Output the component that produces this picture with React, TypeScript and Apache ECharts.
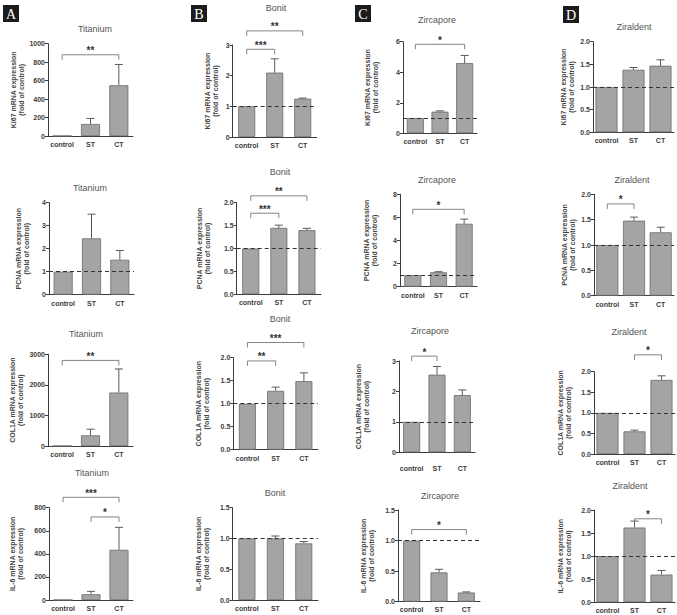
import React, { useEffect, useRef } from "react";
import * as echarts from "echarts";

// ---------- data ----------
const categories = ["control", "ST", "CT"];
const materials = ["Titanium", "Bonit", "Zircapore", "Ziraldent"];
const genes = ["Ki67", "PCNA", "COL1A", "IL-6"];
const panelLetters = ["A", "B", "C", "D"];

// Titanium
const ki67Titanium = [1, 130, 550];
const ki67TitaniumSd = [0, 60, 225];
const pcnaTitanium = [1, 2.45, 1.52];
const pcnaTitaniumSd = [0, 1.05, 0.4];
const col1aTitanium = [1, 350, 1750];
const col1aTitaniumSd = [0, 200, 770];
const il6Titanium = [1, 50, 435];
const il6TitaniumSd = [0, 25, 195];
// Bonit
const ki67Bonit = [1, 2.1, 1.25];
const ki67BonitSd = [0, 0.45, 0.02];
const pcnaBonit = [1, 1.45, 1.4];
const pcnaBonitSd = [0, 0.06, 0.04];
const col1aBonit = [1, 1.28, 1.49];
const col1aBonitSd = [0, 0.08, 0.18];
const il6Bonit = [1, 1.0, 0.92];
const il6BonitSd = [0, 0.04, 0.03];
// Zircapore
const ki67Zircapore = [1, 1.42, 4.6];
const ki67ZircaporeSd = [0, 0.05, 0.5];
const pcnaZircapore = [1, 1.25, 5.45];
const pcnaZircaporeSd = [0, 0.05, 0.4];
const col1aZircapore = [1, 2.55, 1.88];
const col1aZircaporeSd = [0, 0.27, 0.17];
const il6Zircapore = [1, 0.48, 0.15];
const il6ZircaporeSd = [0, 0.05, 0.01];
// Ziraldent
const ki67Ziraldent = [1, 1.38, 1.47];
const ki67ZiraldentSd = [0, 0.05, 0.13];
const pcnaZiraldent = [1, 1.48, 1.25];
const pcnaZiraldentSd = [0, 0.07, 0.1];
const col1aZiraldent = [1, 0.55, 1.8];
const col1aZiraldentSd = [0, 0.03, 0.1];
const il6Ziraldent = [1, 1.62, 0.6];
const il6ZiraldentSd = [0, 0.14, 0.09];

// y-axis maxima and tick steps (panel order: material-major, gene-minor)
const yMax = [1000, 4, 3000, 800, 3, 2, 2, 1.5, 6, 8, 3, 1.5, 2, 2, 2, 2];
const yStep = [200, 1, 1000, 200, 1, 0.5, 0.5, 0.5, 2, 2, 1, 0.5, 0.5, 0.5, 0.5, 0.5];
const showBaseline = [false, true, false, false, true, true, true, true, true, true, true, true, true, true, true, true];

// significance brackets: [panel, fromCategory, toCategory, level]
const brackets = [
  [0, 0, 2, 880],
  [2, 0, 2, 2800],
  [3, 0, 2, 890],
  [3, 1, 2, 720],
  [4, 0, 1, 2.86],
  [4, 0, 2, 3.46],
  [5, 0, 1, 1.77],
  [5, 0, 2, 2.15],
  [6, 0, 1, 1.93],
  [6, 0, 2, 2.33],
  [8, 0, 2, 5.83],
  [9, 0, 2, 6.7],
  [10, 0, 1, 3.16],
  [11, 0, 2, 1.18],
  [13, 0, 1, 1.81],
  [14, 1, 2, 2.41],
  [15, 1, 2, 1.81],
];
const bracketStars = ["**", "**", "***", "*", "***", "**", "***", "**", "**", "***", "*", "*", "*", "*", "*", "*", "*"];

const means = [
  ki67Titanium, pcnaTitanium, col1aTitanium, il6Titanium,
  ki67Bonit, pcnaBonit, col1aBonit, il6Bonit,
  ki67Zircapore, pcnaZircapore, col1aZircapore, il6Zircapore,
  ki67Ziraldent, pcnaZiraldent, col1aZiraldent, il6Ziraldent,
];
const sds = [
  ki67TitaniumSd, pcnaTitaniumSd, col1aTitaniumSd, il6TitaniumSd,
  ki67BonitSd, pcnaBonitSd, col1aBonitSd, il6BonitSd,
  ki67ZircaporeSd, pcnaZircaporeSd, col1aZircaporeSd, il6ZircaporeSd,
  ki67ZiraldentSd, pcnaZiraldentSd, col1aZiraldentSd, il6ZiraldentSd,
];

// ---------- layout (pixels) ----------
const layout = [
  { x0: 48, x1: 133, yTop: 43.7, y0: 136, tx: 95, ty: 29, gap: 22 },
  { x0: 49, x1: 134, yTop: 202.7, y0: 294.7, tx: 90, ty: 188, gap: 19 },
  { x0: 48, x1: 133, yTop: 354.3, y0: 446, tx: 86, ty: 334, gap: 24 },
  { x0: 49, x1: 133, yTop: 507.7, y0: 600, tx: 92, ty: 473, gap: 25 },
  { x0: 232.7, x1: 316.7, yTop: 45, y0: 137, tx: 276, ty: 8, gap: 13 },
  { x0: 236.7, x1: 321, yTop: 202.7, y0: 294.3, tx: 280, ty: 172, gap: 25 },
  { x0: 233.3, x1: 318, yTop: 357.7, y0: 449.7, tx: 280, ty: 319, gap: 23 },
  { x0: 232.7, x1: 318, yTop: 507.7, y0: 600, tx: 275, ty: 493, gap: 22 },
  { x0: 403, x1: 477, yTop: 41.7, y0: 133.3, tx: 437, ty: 20, gap: 24 },
  { x0: 400, x1: 477, yTop: 194.3, y0: 286.7, tx: 437, ty: 180, gap: 22 },
  { x0: 399, x1: 475, yTop: 361, y0: 452.3, tx: 430, ty: 331, gap: 29, lm: 13 },
  { x0: 398, x1: 480, yTop: 510, y0: 601.7, tx: 440, ty: 496, gap: 23, lm: 4 },
  { x0: 593, x1: 674, yTop: 41.7, y0: 132.3, tx: 634, ty: 27, gap: 18 },
  { x0: 594, x1: 674, yTop: 194.3, y0: 295.7, tx: 632, ty: 180, gap: 18 },
  { x0: 594, x1: 675, yTop: 371.7, y0: 454, tx: 629, ty: 332, gap: 22 },
  { x0: 594, x1: 675, yTop: 510, y0: 602.3, tx: 630, ty: 486, gap: 22 },
];
const barWidths = [19, 17, 17, 22];
const letterBoxes = [
  { x: 3, y: 5 },
  { x: 191, y: 5 },
  { x: 355, y: 5 },
  { x: 563, y: 6 },
];

const FONT = "Liberation Sans, Arial, Helvetica, sans-serif";
const AXIS_COLOR = "#3c3c3c";

function buildOption() {
  const grid: any[] = [];
  const xAxis: any[] = [];
  const yAxis: any[] = [];
  const series: any[] = [];
  const title: any[] = [];

  for (let i = 0; i < 16; i++) {
    const col = Math.floor(i / 4);
    const row = i % 4;
    const L = layout[i];
    grid.push({ left: L.x0, top: L.yTop, width: L.x1 - L.x0, height: L.y0 - L.yTop });
    title.push({
      text: materials[col],
      left: L.tx,
      top: L.ty - 5,
      textAlign: "center",
      padding: 0,
      textStyle: { fontFamily: FONT, fontSize: 9, fontWeight: "normal", color: "#555" },
    });
    xAxis.push({
      type: "category",
      gridIndex: i,
      data: categories,
      axisLine: { lineStyle: { color: AXIS_COLOR, width: 1 } },
      axisTick: { alignWithLabel: true, length: 3, lineStyle: { color: AXIS_COLOR } },
      axisLabel: {
        interval: 0,
        fontFamily: FONT,
        fontSize: 7,
        fontWeight: "bold",
        color: AXIS_COLOR,
        margin: L.lm ?? 5,
      },
    });
    const step = yStep[i];
    yAxis.push({
      type: "value",
      gridIndex: i,
      min: 0,
      max: yMax[i],
      interval: step,
      splitLine: { show: false },
      axisLine: { show: true, lineStyle: { color: AXIS_COLOR, width: 1 } },
      axisTick: { show: true, length: 3, lineStyle: { color: AXIS_COLOR } },
      axisLabel: {
        fontFamily: FONT,
        fontSize: 7,
        fontWeight: "bold",
        color: AXIS_COLOR,
        margin: 3,
        formatter: (v: number) => (step < 1 ? v.toFixed(1) : String(Math.round(v))),
      },
      name: genes[row] + " mRNA expression\n(fold of control)",
      nameLocation: "middle",
      nameRotate: 90,
      nameGap: L.gap,
      nameTextStyle: { fontFamily: FONT, fontSize: 7, fontWeight: "bold", lineHeight: 8, color: "#444" },
    });

    const bar: any = {
      type: "bar",
      xAxisIndex: i,
      yAxisIndex: i,
      data: means[i],
      barWidth: barWidths[col],
      itemStyle: { color: "#a4a4a4", borderColor: "#6a6a6a", borderWidth: 0.8 },
      silent: true,
    };
    if (showBaseline[i]) {
      bar.markLine = {
        silent: true,
        symbol: ["none", "none"],
        label: { show: false },
        lineStyle: { type: [4, 3], color: "#333", width: 1 },
        data: [{ yAxis: 1 }],
      };
    }
    series.push(bar);

    const errData = means[i]
      .map((m, k) => [k, m, m + sds[i][k]])
      .filter((d, k) => sds[i][k] > 0);
    series.push({
      type: "custom",
      xAxisIndex: i,
      yAxisIndex: i,
      data: errData,
      encode: { x: 0, y: [1, 2] },
      silent: true,
      z: 5,
      renderItem: (params: any, api: any) => {
        const x = api.value(0);
        const p0 = api.coord([x, api.value(1)]);
        const p1 = api.coord([x, api.value(2)]);
        const st = { stroke: "#5a5a5a", lineWidth: 1 };
        return {
          type: "group",
          children: [
            { type: "line", shape: { x1: p0[0], y1: p0[1], x2: p1[0], y2: p1[1] }, style: st },
            { type: "line", shape: { x1: p1[0] - 4, y1: p1[1], x2: p1[0] + 4, y2: p1[1] }, style: st },
          ],
        };
      },
    });

    const bIdx: number[] = [];
    brackets.forEach((b, k) => {
      if (b[0] === i) bIdx.push(k);
    });
    if (bIdx.length) {
      series.push({
        type: "custom",
        xAxisIndex: i,
        yAxisIndex: i,
        data: bIdx.map((k) => [brackets[k][1], brackets[k][2], brackets[k][3], k]),
        encode: { x: [0, 1], y: 2 },
        silent: true,
        clip: false,
        z: 6,
        renderItem: (params: any, api: any) => {
          const a = api.coord([api.value(0), api.value(2)]);
          const b = api.coord([api.value(1), api.value(2)]);
          const k = api.value(3);
          const y = a[1];
          return {
            type: "group",
            children: [
              {
                type: "polyline",
                shape: { points: [[a[0], y + 5], [a[0], y], [b[0], y], [b[0], y + 5]] },
                style: { stroke: "#666", lineWidth: 0.8, fill: "none" },
              },
              {
                type: "text",
                x: (a[0] + b[0]) / 2,
                y: y + 1,
                style: {
                  text: bracketStars[k],
                  textAlign: "center",
                  textVerticalAlign: "bottom",
                  align: "center",
                  verticalAlign: "bottom",
                  font: "bold 10px " + FONT,
                  fill: "#333",
                },
              },
            ],
          };
        },
      });
    }
  }

  const graphic: any[] = [];
  letterBoxes.forEach((b, k) => {
    graphic.push({
      type: "rect",
      shape: { x: b.x, y: b.y, width: 16, height: 17 },
      style: { fill: "#1b1b1b" },
    });
    graphic.push({
      type: "text",
      x: b.x + 8,
      y: b.y + 9,
      style: {
        text: panelLetters[k],
        textAlign: "center",
        textVerticalAlign: "middle",
        align: "center",
        verticalAlign: "middle",
        font: "14px Liberation Serif, Times New Roman, serif",
        fill: "#ffffff",
      },
    });
  });

  return {
    animation: false,
    backgroundColor: "#ffffff",
    title,
    grid,
    xAxis,
    yAxis,
    series,
    graphic,
  };
}

export default function App() {
  const ref = useRef<HTMLDivElement>(null);
  useEffect(() => {
    if (!ref.current) return;
    const chart = echarts.init(ref.current, null, { renderer: "svg" });
    chart.setOption(buildOption() as any);
    return () => chart.dispose();
  }, []);
  return (
    <div
      ref={ref}
      style={{ position: "fixed", left: 0, top: 0, width: 677, height: 615, background: "#fff" }}
    />
  );
}
